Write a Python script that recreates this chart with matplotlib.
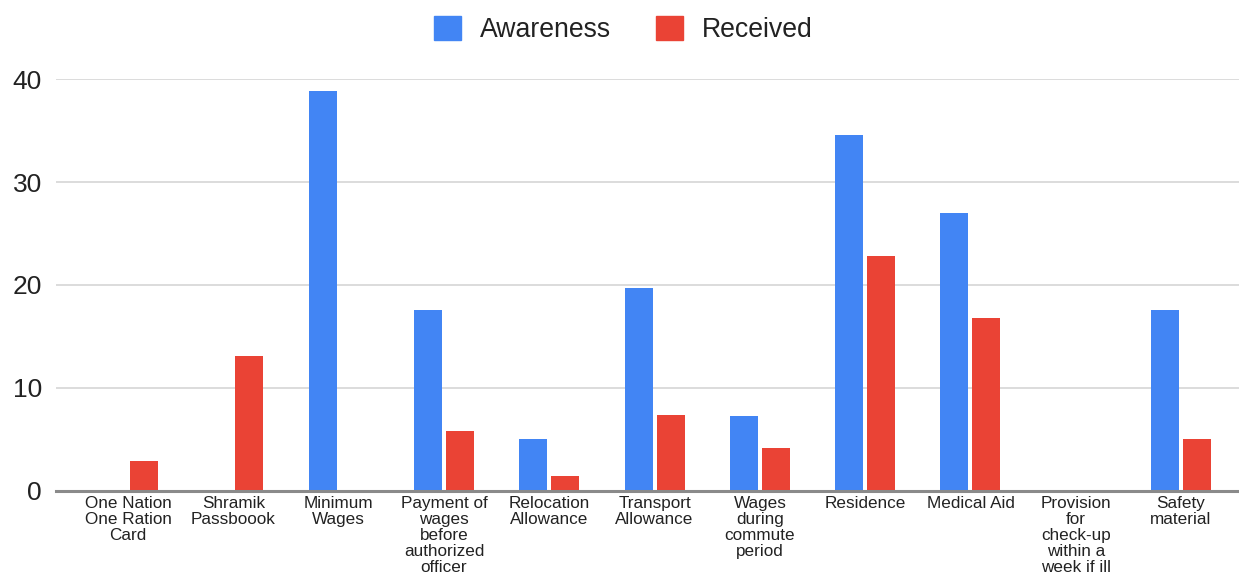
"""Grouped bar chart: awareness vs. receipt of worker entitlements."""
import numpy as np
import matplotlib
matplotlib.use("Agg")
import matplotlib.pyplot as plt
from matplotlib.patches import Patch

categories = [
    "One Nation\nOne Ration\nCard",
    "Shramik\nPassboook",
    "Minimum\nWages",
    "Payment of\nwages\nbefore\nauthorized\nofficer",
    "Relocation\nAllowance",
    "Transport\nAllowance",
    "Wages\nduring\ncommute\nperiod",
    "Residence",
    "Medical Aid",
    "Provision\nfor\ncheck-up\nwithin a\nweek if ill",
    "Safety\nmaterial",
]
awareness = [0, 0, 38.9, 17.6, 5.0, 19.7, 7.3, 34.6, 27.0, 0, 17.6]
received = [2.9, 13.1, 0, 5.8, 1.4, 7.4, 4.2, 22.8, 16.8, 0, 5.0]
y_ticks = [0, 10, 20, 30, 40]

BLUE = "#4285F4"
RED = "#EA4335"

plt.rcParams["font.family"] = ["Liberation Sans", "DejaVu Sans"]

fig = plt.figure(figsize=(12.39, 5.75), dpi=100)
ax = fig.add_axes([0.0452, 0.1466, 0.9548, 0.7155])

x = np.arange(len(categories))
width = 0.266
offset = 0.152
ax.bar(x - offset, awareness, width, color=BLUE, zorder=3)
ax.bar(x + offset, received, width, color=RED, zorder=3)

ax.set_xlim(-0.684, 10.55)
ax.set_ylim(0, 40)
ax.set_yticks(y_ticks)
ax.set_yticklabels([str(v) for v in y_ticks], fontsize=19, color="#222222")
ax.tick_params(axis="y", length=0, pad=10)
ax.set_xticks(x)
ax.set_xticklabels(categories, fontsize=12.3, color="#222222", linespacing=1.08)
ax.tick_params(axis="x", length=0, pad=4)

ax.grid(axis="y", color="#d6d6d6", linewidth=1.2, zorder=0)
for side in ("top", "right", "left"):
    ax.spines[side].set_visible(False)
ax.spines["bottom"].set_color("#8a8a8a")
ax.spines["bottom"].set_linewidth(2.2)
ax.spines["bottom"].set_zorder(4)

handles = [Patch(color=BLUE, label="Awareness"), Patch(color=RED, label="Received")]
fig.legend(handles=handles, loc="center", bbox_to_anchor=(0.503, 0.948), ncol=2,
           frameon=False, fontsize=19.2, handlelength=1.0, handleheight=1.0,
           handletextpad=0.7, columnspacing=1.7, labelcolor="#222222")

fig.savefig("out.png", dpi=100, facecolor="white")
